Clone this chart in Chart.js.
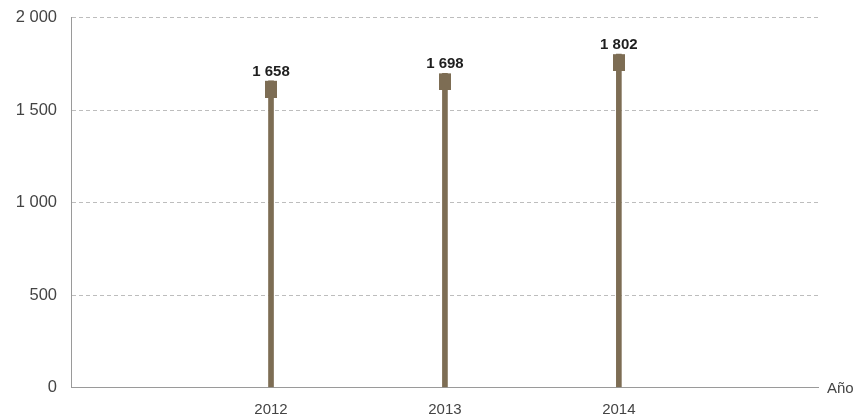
<!DOCTYPE html>
<html>
<head>
<meta charset="utf-8">
<script src="https://cdn.jsdelivr.net/npm/chart.js@4/dist/chart.umd.min.js"></script>
<style>
  html, body { margin: 0; padding: 0; background: #fff; }
  #wrap { width: 862px; height: 420px; }
</style>
</head>
<body>
<div id="wrap"><canvas id="chart" width="862" height="420"></canvas></div>
<script>
// ---------- DATA ----------
const years = [2012, 2013, 2014];
const values = [1658, 1698, 1802];
const yTicks = [0, 500, 1000, 1500, 2000];
const axisTitle = 'Año';

const BROWN = '#7d6d54';
const TEXT = '#444';

function fmt(n) {
  return String(n).replace(/\B(?=(\d{3})+(?!\d))/g, ' ');
}

// marker: 12x17 block hanging below the value point
function makeMarker() {
  const c = document.createElement('canvas');
  c.width = 12;
  c.height = 34;
  const g = c.getContext('2d');
  g.fillStyle = BROWN;
  g.fillRect(0, 17, 12, 17);
  return c;
}

// ---------- PLUGINS ----------
const valueLabels = {
  id: 'valueLabels',
  afterDatasetsDraw(chart) {
    const ctx = chart.ctx;
    const xs = chart.scales.x, ys = chart.scales.y;
    ctx.save();
    ctx.font = 'bold 15px "Liberation Sans", Arial, sans-serif';
    ctx.fillStyle = '#1e1e1e';
    ctx.textAlign = 'center';
    ctx.textBaseline = 'alphabetic';
    years.forEach((yr, i) => {
      ctx.fillText(fmt(values[i]), xs.getPixelForValue(yr), ys.getPixelForValue(values[i]) - 5);
    });
    // axis title at the right end of the x axis
    ctx.font = '15px "Liberation Sans", Arial, sans-serif';
    ctx.fillStyle = TEXT;
    ctx.textAlign = 'left';
    ctx.fillText(axisTitle, chart.chartArea.right + 9, ys.getPixelForValue(0) + 5);
    ctx.restore();
  }
};

// ---------- CHART ----------
const ctx = document.getElementById('chart').getContext('2d');
new Chart(ctx, {
  type: 'bar',
  data: {
    datasets: [
      {
        type: 'line',
        data: years.map((yr, i) => ({ x: yr, y: values[i] })),
        showLine: false,
        pointStyle: makeMarker(),
        pointRadius: 6,
        order: 0
      },
      {
        type: 'bar',
        data: years.map((yr, i) => ({ x: yr, y: values[i] })),
        backgroundColor: BROWN,
        barThickness: 5,
        order: 1
      }
    ]
  },
  options: {
    responsive: false,
    animation: false,
    layout: { padding: { left: 0, right: 44, top: 17.5, bottom: 0 } },
    plugins: { legend: { display: false }, tooltip: { enabled: false } },
    scales: {
      x: {
        type: 'linear',
        offset: false,
        min: 2010.85,
        max: 2015.145,
        afterBuildTicks: (scale) => { scale.ticks = years.map(v => ({ value: v })); },
        afterFit: (scale) => { scale.height = 32.5; scale.paddingLeft = 0; scale.paddingRight = 0; },
        grid: { display: false, drawTicks: false },
        border: { display: true, color: '#9a9a9a', width: 1 },
        ticks: {
          padding: 13,
          color: TEXT,
          font: { family: '"Liberation Sans", Arial, sans-serif', size: 15 },
          callback: (v) => String(v)
        }
      },
      y: {
        min: 0,
        max: 2000,
        afterBuildTicks: (scale) => { scale.ticks = yTicks.map(v => ({ value: v })); },
        afterFit: (scale) => { scale.width = 71; scale.paddingTop = 0; scale.paddingBottom = 0; },
        grid: {
          drawTicks: false,
          color: (c) => (c.tick && c.tick.value === 0) ? 'rgba(0,0,0,0)' : '#bdbdbd',
          lineWidth: 1
        },
        border: { display: true, color: '#9a9a9a', width: 1, dash: [4, 3] },
        ticks: {
          padding: 14,
          color: TEXT,
          font: { family: '"Liberation Sans", Arial, sans-serif', size: 16.5 },
          callback: (v) => fmt(v)
        }
      }
    }
  },
  plugins: [valueLabels]
});
</script>
</body>
</html>
